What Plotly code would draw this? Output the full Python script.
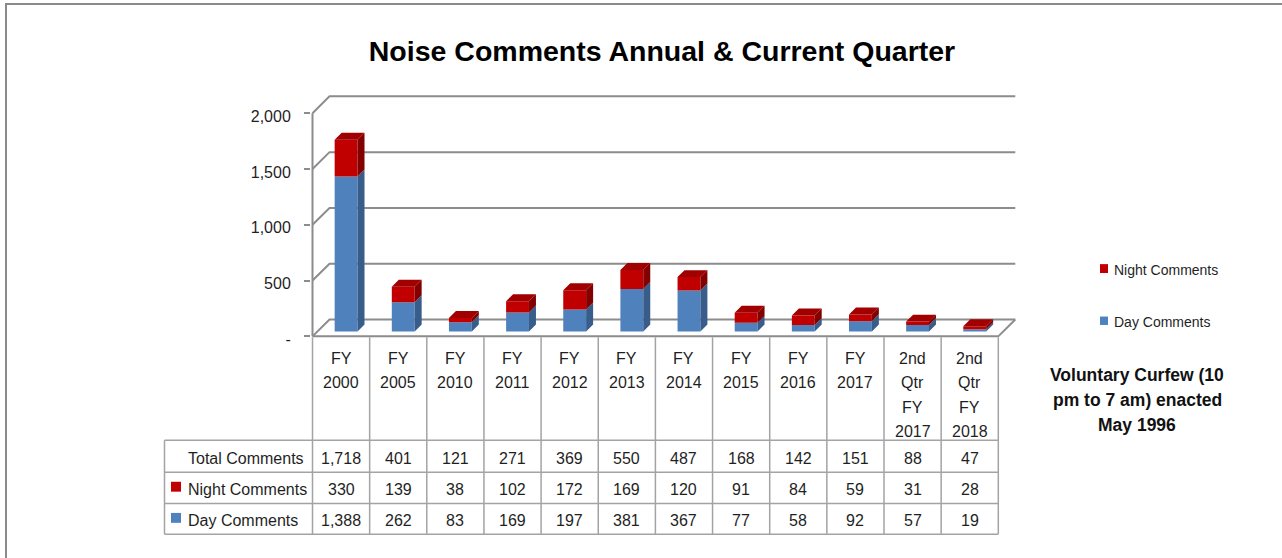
import plotly.graph_objects as go

# ---------------- data ----------------
categories = ["FY 2000", "FY 2005", "FY 2010", "FY 2011", "FY 2012", "FY 2013",
              "FY 2014", "FY 2015", "FY 2016", "FY 2017",
              "2nd Qtr FY 2017", "2nd Qtr FY 2018"]
night_comments = [330, 139, 38, 102, 172, 169, 120, 91, 84, 59, 31, 28]
day_comments = [1388, 262, 83, 169, 197, 381, 367, 77, 58, 92, 57, 19]
total_comments = [1718, 401, 121, 271, 369, 550, 487, 168, 142, 151, 88, 47]
row_labels = ["Total Comments", "Night Comments", "Day Comments"]
y_tick_values = [0, 500, 1000, 1500, 2000]
y_tick_labels = ["-", "500", "1,000", "1,500", "2,000"]
title_text = "Noise Comments Annual & Current Quarter"
note_lines = ["Voluntary Curfew (10", "pm to 7 am) enacted", "May 1996"]

# ---------------- geometry (pixels) ----------------
W, H = 1282, 558
X0 = 312.5          # pixel of x = -0.5 (left edge of first column)
PXX = 57.15         # pixels per category
Y0 = 340.0          # pixel of value 0 on the front plane
K = 0.1128          # pixels per unit value
XD0, XD1 = 311.0, 1030.0   # x-axis domain in px
YD_TOP, YD_BOT = 88.0, 346.0

n = len(categories)
x_rng = [(XD0 - X0) / PXX - 0.5, (XD1 - X0) / PXX - 0.5]
y_rng = [-(YD_BOT - Y0) / K, (Y0 - YD_TOP) / K]


def dx(d):
    return d / PXX


def dy(d):
    return d / K


def px(p):
    return p / W


def py(p):
    return 1 - p / H


FONT = "Liberation Sans, Arial, sans-serif"
TXT = "#1f1f1f"
GRID = "#8c8c8c"
TBL = "#a3a3a3"

DAY_FRONT, DAY_SIDE = "#4F81BD", "#385D8A"
NIGHT_FRONT, NIGHT_SIDE, NIGHT_TOP = "#C00000", "#820000", "#A00000"

BACK = 17      # depth of back wall (px)
BF = 5         # bar front depth (px)
BD = 7         # bar depth (px)
HW = 0.2       # half bar width in category units

fig = go.Figure()

# ---------------- walls / gridlines ----------------
gx, gy = [], []
for v in y_tick_values:
    gx += [-0.5, -0.5 + dx(BACK), n - 0.5 + dx(BACK), None]
    gy += [v, v + dy(BACK), v + dy(BACK), None]
# front vertical axis line
gx += [-0.5, -0.5, None]
gy += [0, y_tick_values[-1], None]
# floor front edge and right diagonal
gx += [-0.5, n - 0.5, n - 0.5 + dx(BACK), None]
gy += [0, 0, dy(BACK), None]
fig.add_trace(go.Scatter(x=gx, y=gy, mode="lines",
                         line=dict(color=GRID, width=2),
                         hoverinfo="skip", showlegend=False))


# ---------------- 3D bars ----------------
def faces(lows, highs):
    fx, fy, sx, sy, tx, ty = [], [], [], [], [], []
    ox, oy = dx(BF), dy(BF)
    ddx, ddy = dx(BD), dy(BD)
    for i, (lo, hi) in enumerate(zip(lows, highs)):
        xl, xr = i - HW + ox, i + HW + ox
        yl, yh = lo + oy, hi + oy
        fx += [xl, xr, xr, xl, xl, None]
        fy += [yl, yl, yh, yh, yl, None]
        sx += [xr, xr + ddx, xr + ddx, xr, xr, None]
        sy += [yl, yl + ddy, yh + ddy, yh, yl, None]
        tx += [xl, xr, xr + ddx, xl + ddx, xl, None]
        ty += [yh, yh, yh + ddy, yh + ddy, yh, None]
    return (fx, fy), (sx, sy), (tx, ty)


day_low = [0] * n
day_high = day_comments
night_low = day_comments
night_high = [d + nn for d, nn in zip(day_comments, night_comments)]

dfr, dsd, _ = faces(day_low, day_high)
nfr, nsd, ntp = faces(night_low, night_high)

for (xs, ys), col in [(dfr, DAY_FRONT), (dsd, DAY_SIDE),
                      (nfr, NIGHT_FRONT), (nsd, NIGHT_SIDE), (ntp, NIGHT_TOP)]:
    fig.add_trace(go.Scatter(x=xs, y=ys, mode="lines", fill="toself",
                             fillcolor=col, line=dict(width=0, color=col),
                             hoverinfo="skip", showlegend=False))

# ---------------- table ----------------
shapes = []
T_TOP, T_HDR, T_R1, T_R2, T_BOT = 341, 445, 477.5, 509, 540
T_LEFT = 164.5
T_RIGHT = X0 + n * PXX


def hline(y, x0, x1, color=TBL, w=1.5):
    shapes.append(dict(type="line", xref="paper", yref="paper",
                       x0=px(x0), x1=px(x1), y0=py(y), y1=py(y),
                       line=dict(color=color, width=w)))


def vline(x, y0, y1, color=TBL, w=1.5):
    shapes.append(dict(type="line", xref="paper", yref="paper",
                       x0=px(x), x1=px(x), y0=py(y0), y1=py(y1),
                       line=dict(color=color, width=w)))


hline(T_HDR, T_LEFT, T_RIGHT)
hline(T_R1, T_LEFT, T_RIGHT)
hline(T_R2, T_LEFT, T_RIGHT)
hline(T_BOT, T_LEFT, T_RIGHT)
vline(T_LEFT, T_HDR, T_BOT)
for j in range(n + 1):
    vline(X0 + j * PXX, T_TOP, T_BOT)

# legend keys inside table
shapes.append(dict(type="rect", xref="paper", yref="paper",
                   x0=px(171), x1=px(181), y0=py(487), y1=py(497),
                   fillcolor=NIGHT_FRONT, line=dict(width=0)))
shapes.append(dict(type="rect", xref="paper", yref="paper",
                   x0=px(171), x1=px(181), y0=py(518.5), y1=py(528.5),
                   fillcolor=DAY_FRONT, line=dict(width=0)))

# side legend keys
shapes.append(dict(type="rect", xref="paper", yref="paper",
                   x0=px(1100), x1=px(1108), y0=py(267), y1=py(276),
                   fillcolor=NIGHT_FRONT, line=dict(width=0)))
shapes.append(dict(type="rect", xref="paper", yref="paper",
                   x0=px(1100), x1=px(1108), y0=py(320), y1=py(328.5),
                   fillcolor=DAY_FRONT, line=dict(width=0)))

# outer frame
shapes.append(dict(type="rect", xref="paper", yref="paper",
                   x0=px(6), x1=px(W + 10), y0=py(4), y1=py(H + 10),
                   line=dict(color="#8a8a8a", width=2), fillcolor="rgba(0,0,0,0)"))

annotations = []
# header texts
for i, cat in enumerate(categories):
    for j, part in enumerate(cat.split(" ")):
        annotations.append(dict(x=i, xref="x", y=py(362.5 + 24.5 * j), yref="paper",
                                text=part, showarrow=False, xanchor="center",
                                yanchor="middle",
                                font=dict(family=FONT, size=16, color=TXT)))

row_values = [total_comments, night_comments, day_comments]
row_centers = [463.5, 495, 526.5]
for r, (label, vals, yc) in enumerate(zip(row_labels, row_values, row_centers)):
    annotations.append(dict(x=px(186), xref="paper", y=py(yc), yref="paper",
                            text=label, showarrow=False, xanchor="left",
                            yanchor="middle",
                            font=dict(family=FONT, size=16, color=TXT)))
    for i, v in enumerate(vals):
        annotations.append(dict(x=i, xref="x", y=py(yc), yref="paper",
                                text=f"{v:,}", showarrow=False, xanchor="center",
                                yanchor="middle",
                                font=dict(family=FONT, size=16, color=TXT)))

# side legend texts
annotations.append(dict(x=px(1112), xref="paper", y=py(272.5), yref="paper",
                        text="Night Comments", showarrow=False, xanchor="left",
                        yanchor="middle", font=dict(family=FONT, size=14, color=TXT)))
annotations.append(dict(x=px(1112), xref="paper", y=py(325), yref="paper",
                        text="Day Comments", showarrow=False, xanchor="left",
                        yanchor="middle", font=dict(family=FONT, size=14, color=TXT)))

# curfew note
for k, line in enumerate(note_lines):
    annotations.append(dict(x=px(1137), xref="paper", y=py(379 + 25.5 * k), yref="paper",
                            text=f"<b>{line}</b>", showarrow=False, xanchor="center",
                            yanchor="middle", font=dict(family=FONT, size=17.5, color="#111")))

fig.update_layout(
    width=W, height=H,
    margin=dict(l=0, r=0, t=0, b=0),
    paper_bgcolor="white", plot_bgcolor="white",
    title=dict(text=f"<b>{title_text}</b>", x=px(662), y=py(51),
               xanchor="center", yanchor="middle",
               font=dict(family=FONT, size=28.5, color="#000")),
    xaxis=dict(domain=[px(XD0), px(XD1)], range=x_rng, visible=False,
               fixedrange=True),
    yaxis=dict(domain=[py(YD_BOT), py(YD_TOP)], range=y_rng,
               tickvals=y_tick_values, ticktext=y_tick_labels,
               showgrid=False, zeroline=False, showline=False,
               ticks="outside", ticklen=6, tickcolor=GRID, tickwidth=1.5,
               ticklabelstandoff=10, ticklabelshift=3,
               tickfont=dict(family=FONT, size=16, color=TXT),
               fixedrange=True),
    shapes=shapes,
    annotations=annotations,
    showlegend=False,
)

fig.write_html(
    "out.html",
    config={"displayModeBar": False},
    post_script="document.body.style.margin='0';document.body.style.padding='0';"
                "document.documentElement.style.overflow='hidden';",
)
